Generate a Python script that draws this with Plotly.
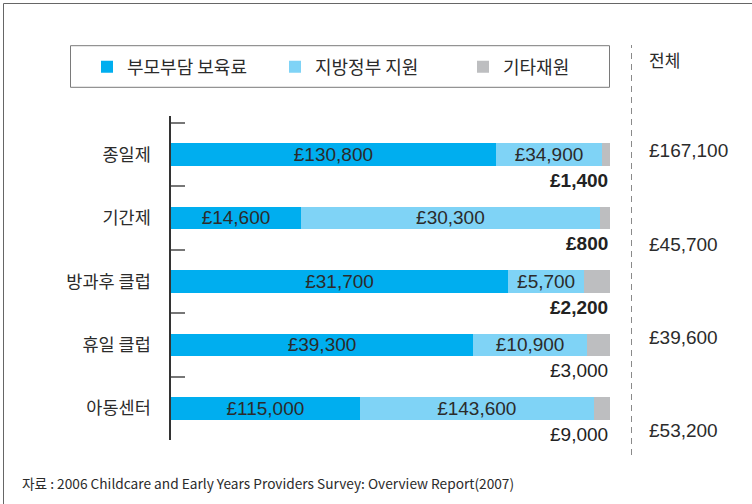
import plotly.graph_objects as go

# ---- data ----
categories = ["종일제", "기간제", "방과후 클럽", "휴일 클럽", "아동센터"]
series_names = ["부모부담 보육료", "지방정부 지원", "기타재원"]
# money values (labels)
parent_values = [130800, 14600, 31700, 39300, 115000]
local_values = [34900, 30300, 5700, 10900, 143600]
other_values = [1400, 800, 2200, 3000, 9000]
other_bold = [True, True, True, False, False]
# bar shares as drawn in the chart (% of bar length)
parent_share = [74.0, 29.6, 76.8, 68.8, 43.0]
local_share = [24.2, 68.1, 17.3, 26.0, 53.3]
other_share = [1.8, 2.3, 5.9, 5.2, 3.7]
total_labels = ["£167,100", "£45,700", "£39,600", "£53,200"]
total_header = "전체"
source_text = "자료 : 2006 Childcare and Early Years Providers Survey: Overview Report(2007)"

# ---- layout geometry (pixels) ----
W, H = 752, 504
L, R, T, B = 171, 142, 116, 64
PW, PH = W - L - R, H - T - B


def px(x):
    return (x - L) / PW


def py(y):
    return (H - B - y) / PH


KR = "Noto Sans CJK KR"
NUM = "Liberation Sans, Arial, sans-serif"
TXT = "#2b2b2b"

colors = ["#00AEEF", "#7FD3F6", "#BDBEC0"]


def fmt(v):
    return "£{:,}".format(v)


fig = go.Figure()
fig.add_trace(go.Bar(
    y=categories, x=parent_share, orientation="h", name=series_names[0],
    marker=dict(color=colors[0], line=dict(width=0)),
    text=[fmt(v) for v in parent_values], textposition="inside",
    insidetextanchor="middle", constraintext="none",
    textfont=dict(family=NUM, size=19, color=TXT),
    hoverinfo="skip"))
fig.add_trace(go.Bar(
    y=categories, x=local_share, orientation="h", name=series_names[1],
    marker=dict(color=colors[1], line=dict(width=0)),
    text=[fmt(v) for v in local_values], textposition="inside",
    insidetextanchor="middle", constraintext="none",
    textfont=dict(family=NUM, size=19, color=TXT),
    hoverinfo="skip"))
fig.add_trace(go.Bar(
    y=categories, x=other_share, orientation="h", name=series_names[2],
    marker=dict(color=colors[2], line=dict(width=0)),
    hoverinfo="skip"))

annotations = []
# other-funding labels under each bar, right aligned at bar end
for cat, v, b in zip(categories, other_values, other_bold):
    t = fmt(v)
    annotations.append(dict(
        x=100, y=cat, xref="x", yref="y", xanchor="right", yanchor="middle",
        yshift=-26, showarrow=False,
        text=("<b>%s</b>" % t) if b else t,
        font=dict(family=NUM, size=19, color="#222")))

# totals column
total_y = [150.5, 244.5, 337.5, 430.5]
for lab, yy in zip(total_labels, total_y):
    annotations.append(dict(
        x=px(647), y=py(yy), xref="paper", yref="paper", xanchor="left",
        yanchor="middle", showarrow=False, text=lab,
        font=dict(family=NUM, size=19, color=TXT)))
annotations.append(dict(
    x=px(647), y=py(59), xref="paper", yref="paper", xanchor="left",
    yanchor="middle", showarrow=False, text=total_header,
    font=dict(family=KR, size=17, color=TXT)))
annotations.append(dict(
    x=px(20), y=py(483), xref="paper", yref="paper", xanchor="left",
    yanchor="middle", showarrow=False, text=source_text,
    font=dict(family=KR, size=13.7, color=TXT)))

shapes = [
    # legend frame
    dict(type="rect", xref="paper", yref="paper",
         x0=px(70.5), x1=px(609.5), y0=py(87.3), y1=py(45.7),
         line=dict(color="#7a7a7a", width=1), fillcolor="rgba(0,0,0,0)"),
    # dashed separator
    dict(type="line", xref="paper", yref="paper",
         x0=px(631.5), x1=px(631.5), y0=py(455), y1=py(45),
         line=dict(color="#8a8a8a", width=1, dash="6px,5px")),
    # outer frame (top and left)
    dict(type="line", xref="paper", yref="paper",
         x0=px(3.5), x1=px(752), y0=py(3.5), y1=py(3.5),
         line=dict(color="#666", width=1)),
    dict(type="line", xref="paper", yref="paper",
         x0=px(3.5), x1=px(3.5), y0=py(3.5), y1=py(504),
         line=dict(color="#666", width=1)),
]

fig.update_layout(
    width=W, height=H,
    margin=dict(l=L, r=R, t=T, b=B, pad=0),
    barmode="stack", bargap=0.646,
    plot_bgcolor="white", paper_bgcolor="white",
    font=dict(family=KR, color=TXT),
    showlegend=True,
    legend=dict(orientation="h", x=px(87), xanchor="left",
                y=py(67), yanchor="middle",
                font=dict(family=KR, size=18, color=TXT),
                bgcolor="rgba(0,0,0,0)", borderwidth=0,
                entrywidth=143, entrywidthmode="pixels",
                traceorder="normal", itemclick=False, itemdoubleclick=False),
    xaxis=dict(range=[0, 100], visible=False, fixedrange=True),
    yaxis=dict(type="category", autorange="reversed",
               showline=True, linecolor="#333", linewidth=1.5,
               ticks="inside", tickson="boundaries", ticklen=14,
               tickcolor="#777", tickwidth=1.5,
               ticklabelstandoff=15, showgrid=False, zeroline=False,
               tickfont=dict(family=KR, size=17.5, color=TXT),
               fixedrange=True),
    annotations=annotations,
    shapes=shapes,
)

fig.write_html("out.html", config={"displayModeBar": False},
               post_script="document.body.style.margin='0';")
